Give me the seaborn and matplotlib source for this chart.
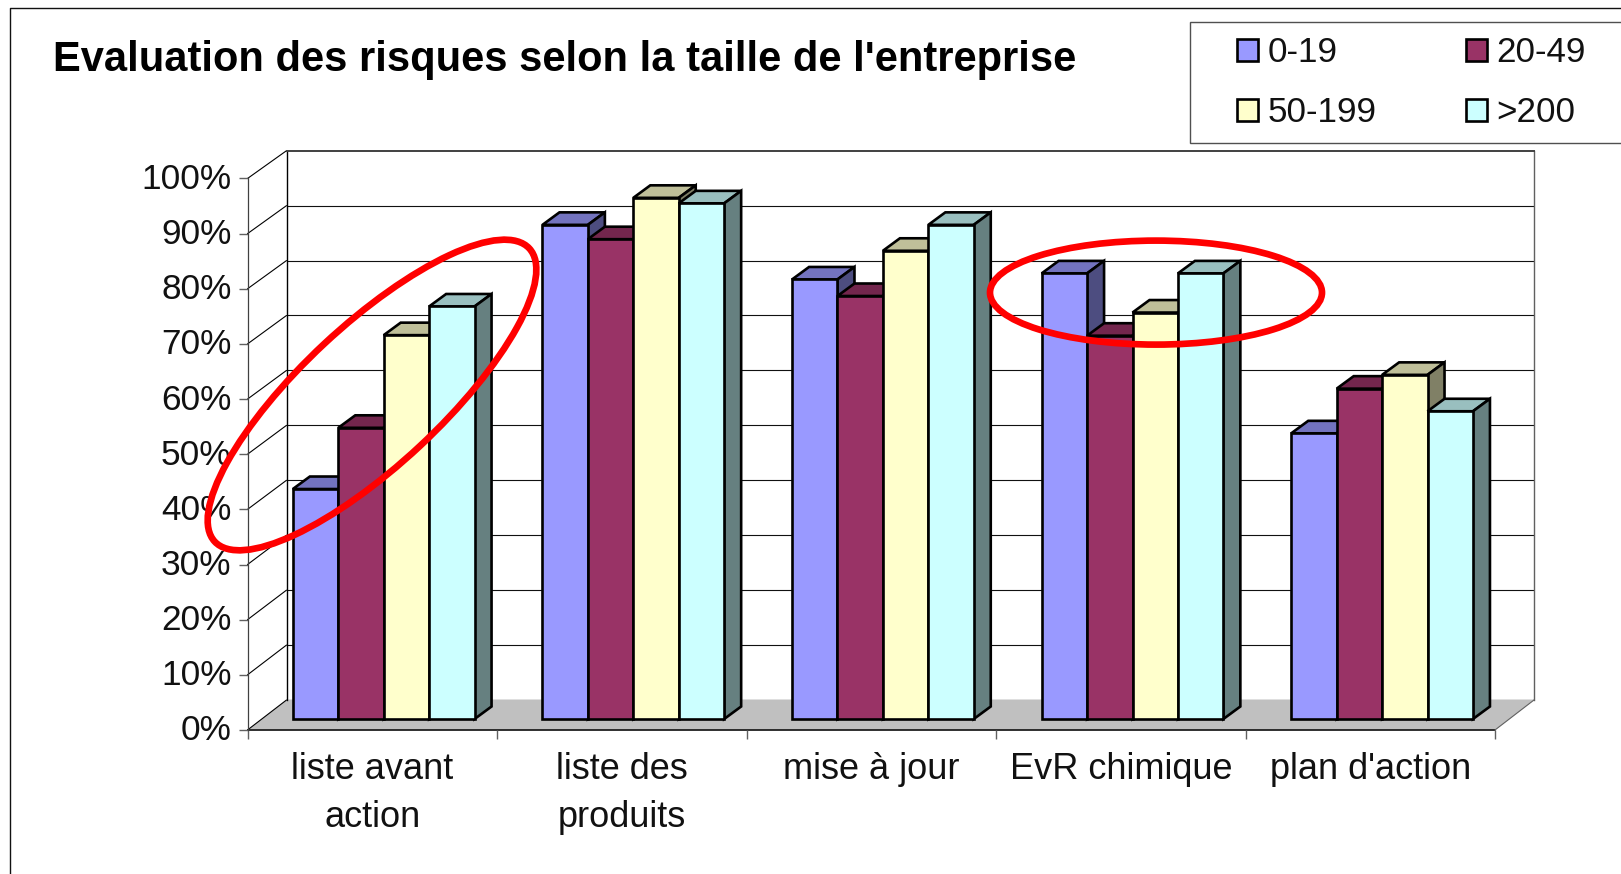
import pandas as pd
import matplotlib
matplotlib.use('Agg')
import matplotlib.pyplot as plt
import seaborn as sns
from matplotlib.patches import Ellipse, Polygon, Rectangle
from matplotlib.colors import to_rgb
from matplotlib.transforms import ScaledTranslation

# values
categories = ['liste avant\naction', 'liste des\nproduits', 'mise à jour', 'EvR chimique', "plan d'action"]
sizes = ['0-19', '20-49', '50-199', '>200']
v_0_19 = [41.7, 89.6, 79.7, 80.8, 51.8]
v_20_49 = [52.8, 87.0, 76.7, 69.5, 59.9]
v_50_199 = [69.6, 94.5, 84.9, 73.7, 62.4]
v_200 = [74.8, 93.5, 89.6, 80.8, 55.8]
colors = ['#9999FF', '#993366', '#FFFFCC', '#CCFFFF']
y_ticks = [0, 10, 20, 30, 40, 50, 60, 70, 80, 90, 100]

W, H = 1621, 874
sns.set_style('white')
plt.rcParams['font.family'] = ['Liberation Sans', 'DejaVu Sans']

df = pd.DataFrame({
    'categorie': categories * 4,
    'taille': [s for s in sizes for _ in categories],
    'valeur': v_0_19 + v_20_49 + v_50_199 + v_200,
})

fig = plt.figure(figsize=(W / 100, H / 100), dpi=100, facecolor='white')


def add_ax(left, right, top, bottom, z):
    # axes placed with pixel positions of the image
    ax = fig.add_axes([left / W, 1 - bottom / H, (right - left) / W, (bottom - top) / H])
    ax.set_zorder(z)
    ax.patch.set_alpha(0)
    return ax


# pixel layer under everything: floor, side wall, outer frame
bg = add_ax(0, W, 0, H, 0)
bg.set_xlim(0, W)
bg.set_ylim(H, 0)
bg.axis('off')
FX0, FX1, FY0, FY1 = 247.5, 1495, 730, 178.5
BX0, BX1, BY0, BY1 = 286.5, 1534, 700, 150.7
bg.add_patch(Polygon([(FX0, FY0), (FX1, FY0), (BX1, BY0), (BX0, BY0)], fc='#C0C0C0', ec='none'))
bg.plot([FX0, FX1], [FY0, FY0], color='#202020', lw=1.3)
bg.plot([FX1, BX1], [FY0, BY0], color='#606060', lw=0.8)
bg.plot([10, 10, W], [H, 8, 8], color='#111111', lw=1.0)
for v in y_ticks:
    y_f = FY0 + (FY1 - FY0) * v / 100
    y_b = BY0 + (BY1 - BY0) * v / 100
    bg.plot([FX0, BX0], [y_f, y_b], color='black', lw=0.8)

# back wall with gridlines
wall = add_ax(BX0, BX1, BY1, BY0, 1)
wall.set_xlim(0, 1)
wall.set_ylim(0, 100)
wall.set_xticks([])
wall.set_yticks([])
for v in y_ticks[1:-1]:
    wall.axhline(v, color='#111111', lw=0.8)
wall.axhline(0, color='black', lw=0.9)
for name, sp in wall.spines.items():
    sp.set_color('#606060')
    sp.set_linewidth(1.0)
wall.spines['top'].set_color('#404040')
wall.spines['top'].set_linewidth(1.4)
wall.spines['left'].set_color('black')
wall.spines['bottom'].set_visible(False)

# front plane: the axis with tick labels
front = add_ax(FX0, FX1, FY1, FY0, 2)
front.set_xlim(0, len(categories))
front.set_ylim(0, 100)
front.set_yticks(y_ticks)
front.set_yticklabels([f'{v}%' for v in y_ticks], fontsize=25.4, color='#111111')
front.set_xticks(range(len(categories) + 1))
front.set_xticklabels([])
front.set_xticks([i + 0.5 for i in range(len(categories))], minor=True)
front.set_xticklabels(categories, minor=True, fontsize=26, color='#111111', linespacing=1.5)
front.tick_params(axis='y', length=6.5, width=1, color='#606060', left=True, pad=5)
front.tick_params(axis='x', which='major', length=6.5, width=1, color='#606060', bottom=True)
front.tick_params(axis='x', which='minor', length=0, pad=15.5)
for name in ['top', 'right', 'bottom']:
    front.spines[name].set_visible(False)
front.spines['left'].set_color('#404040')
front.spines['left'].set_linewidth(0.9)
# y labels sit a little above their ticks
up = ScaledTranslation(0, 2.5 / 100, fig.dpi_scale_trans)
for lab in front.get_yticklabels():
    lab.set_transform(lab.get_transform() + up)

# bar plane, pushed back from the front axis
BAR_X0, BAR_Y0 = 258.9, 719
PX_CAT, PX_PCT = 249.6, 5.515
bars = add_ax(BAR_X0, BAR_X0 + 5 * PX_CAT, BAR_Y0 - 100 * PX_PCT, BAR_Y0, 3)
sns.barplot(data=df, x='categorie', y='valeur', hue='taille', hue_order=sizes,
            palette=colors, saturation=1, width=0.728, gap=0, dodge=True,
            edgecolor='black', linewidth=1.9, ax=bars)
bars.set_xlim(-0.5, 4.5)
bars.set_ylim(0, 100)
bars.axis('off')

handles, labels = bars.get_legend_handles_labels()
bars.get_legend().remove()

# depth of the bars, in data units of the bar plane
ddx = 17 / PX_CAT
ddy = 12.5 / PX_PCT
rects = sorted([r for c in bars.containers for r in c], key=lambda r: r.get_x())
for i, r in enumerate(rects):
    x0, x1 = r.get_x(), r.get_x() + r.get_width()
    h = r.get_height()
    rgb = to_rgb(r.get_facecolor()[:3])
    top = [(x0, h), (x1, h), (x1 + ddx, h + ddy), (x0 + ddx, h + ddy)]
    side = [(x1, 0), (x1 + ddx, ddy), (x1 + ddx, h + ddy), (x1, h)]
    bars.add_patch(Polygon(top, fc=[c * 0.75 for c in rgb], ec='black', lw=1.9,
                           zorder=2 * i + 2, clip_on=False, joinstyle='miter'))
    bars.add_patch(Polygon(side, fc=[c * 0.5 for c in rgb], ec='black', lw=1.9,
                           zorder=2 * i + 2, clip_on=False, joinstyle='miter'))
    r.set_zorder(2 * i + 3)
    r.set_clip_on(False)

# red hand drawn ellipses and legend box on top
over = add_ax(0, W, 0, H, 4)
over.set_xlim(0, W)
over.set_ylim(H, 0)
over.axis('off')
over.add_patch(Ellipse((372, 395), 430, 140, angle=-43, fc='none', ec='#FF0000', lw=4.8))
over.add_patch(Ellipse((1156, 292.6), 332, 104, angle=0, fc='none', ec='#FF0000', lw=4.8))
over.add_patch(Rectangle((1190, 22), 500, 120.7, fc='white', ec='#505050', lw=1.0))

fig.text(53 / W, 1 - 60 / H, "Evaluation des risques selon la taille de l'entreprise",
         fontsize=30, fontweight='bold', color='black', va='center', ha='left')

order = [0, 2, 1, 3]
leg = fig.legend([handles[i] for i in order], [labels[i] for i in order], ncol=2,
                 loc='upper left', bbox_to_anchor=(1237 / W, 1 - 36.5 / H), bbox_transform=fig.transFigure,
                 fontsize=25.2, frameon=False,
                 borderaxespad=0, borderpad=0, handlelength=0.6, handleheight=0.6,
                 handletextpad=0.27, columnspacing=2.55, labelspacing=0.76,
                 labelcolor='#111111')
leg.set_zorder(6)

fig.savefig('out.png', dpi=100, facecolor='white')
